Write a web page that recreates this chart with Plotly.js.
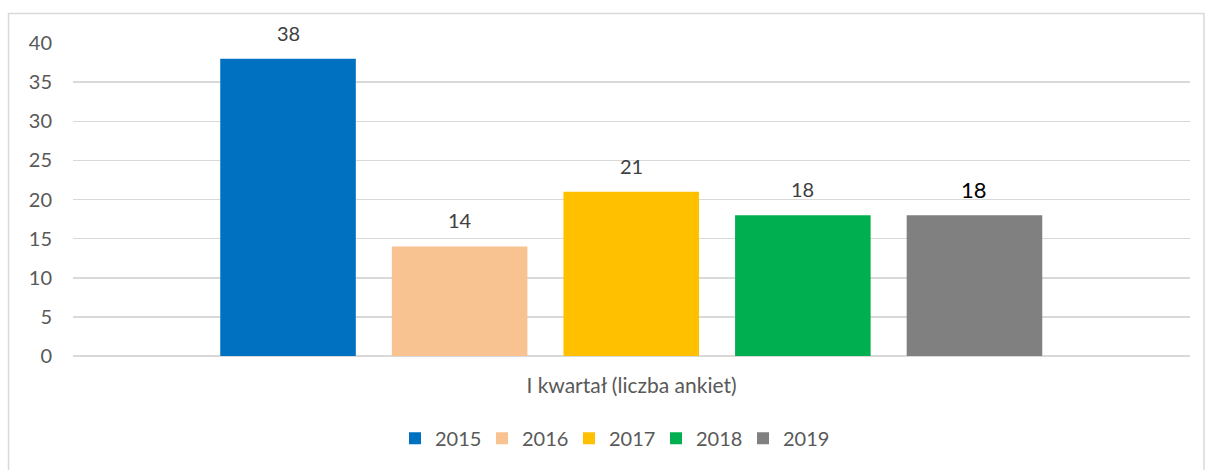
<!DOCTYPE html>
<html>
<head>
<meta charset="utf-8">
<script src="https://cdn.plot.ly/plotly-3.0.1.min.js"></script>
<style>html,body{margin:0;padding:0;background:#fff;}#chart{width:1206px;height:470px;}</style>
</head>
<body>
<div id="chart"></div>
<script>
// Data
const years = ['2015', '2016', '2017', '2018', '2019'];
const values = [38, 14, 21, 18, 18];
const categoryLabel = 'I kwartał (liczba ankiet)';
const yTicks = [0, 5, 10, 15, 20, 25, 30, 35, 40];

// Style
const colors = ['#0070C0', '#F8C291', '#FFC000', '#00B050', '#808080'];
const labelColors = ['#404040', '#404040', '#404040', '#404040', '#000000'];
const labelSizes = [20, 20, 20, 20, 22];
const FONT = 'Lato, "Open Sans", sans-serif';

const traces = years.map((yr, i) => ({
  type: 'bar',
  name: yr,
  x: [yr],
  y: [values[i]],
  width: 0.79,
  marker: {color: colors[i]},
  hoverinfo: 'x+y'
}));

// category axis: annotation x given as the category index of each year
const annotations = years.map((yr, i) => ({
  x: years.indexOf(yr), y: values[i], xref: 'x', yref: 'y',
  text: String(values[i]),
  showarrow: false,
  yanchor: 'middle',
  yshift: 26,
  font: {family: FONT, size: labelSizes[i], color: labelColors[i]}
}));

const layout = {
  width: 1206, height: 470,
  margin: {l: 73, r: 16, t: 43, b: 114},
  paper_bgcolor: '#fff', plot_bgcolor: '#fff',
  barmode: 'overlay',
  font: {family: FONT, size: 20, color: '#595959'},
  showlegend: true,
  legend: {
    orientation: 'h', x: 0.483, xanchor: 'center', y: -0.263, yanchor: 'middle',
    font: {family: FONT, size: 20, color: '#595959'},
    itemwidth: 30, entrywidth: 42, traceorder: 'normal'
  },
  xaxis: {
    type: 'category',
    range: [-1.253, 5.256],
    showticklabels: false,
    showgrid: false, zeroline: false, showline: false, ticks: '',
    title: {text: categoryLabel, font: {family: FONT, size: 21, color: '#595959'}, standoff: 22},
    automargin: false, fixedrange: true
  },
  yaxis: {
    range: [0, 40], tickvals: yTicks,
    showgrid: true, gridcolor: '#d9d9d9', gridwidth: 1.5,
    zeroline: true, zerolinecolor: '#d9d9d9', zerolinewidth: 1.5,
    showline: false,
    ticks: 'outside', ticklen: 16, tickcolor: 'rgba(0,0,0,0)',
    tickfont: {family: FONT, size: 20, color: '#595959'},
    automargin: false, fixedrange: true
  },
  annotations: annotations,
  shapes: [{
    type: 'rect', xref: 'paper', yref: 'paper',
    x0: -0.0577, x1: 1.0125, y0: -0.40, y1: 1.0946,
    line: {color: '#d9d9d9', width: 1.5}, fillcolor: 'rgba(0,0,0,0)', layer: 'below'
  }]
};

Plotly.newPlot('chart', traces, layout, {displayModeBar: false, staticPlot: true});
</script>
</body>
</html>
